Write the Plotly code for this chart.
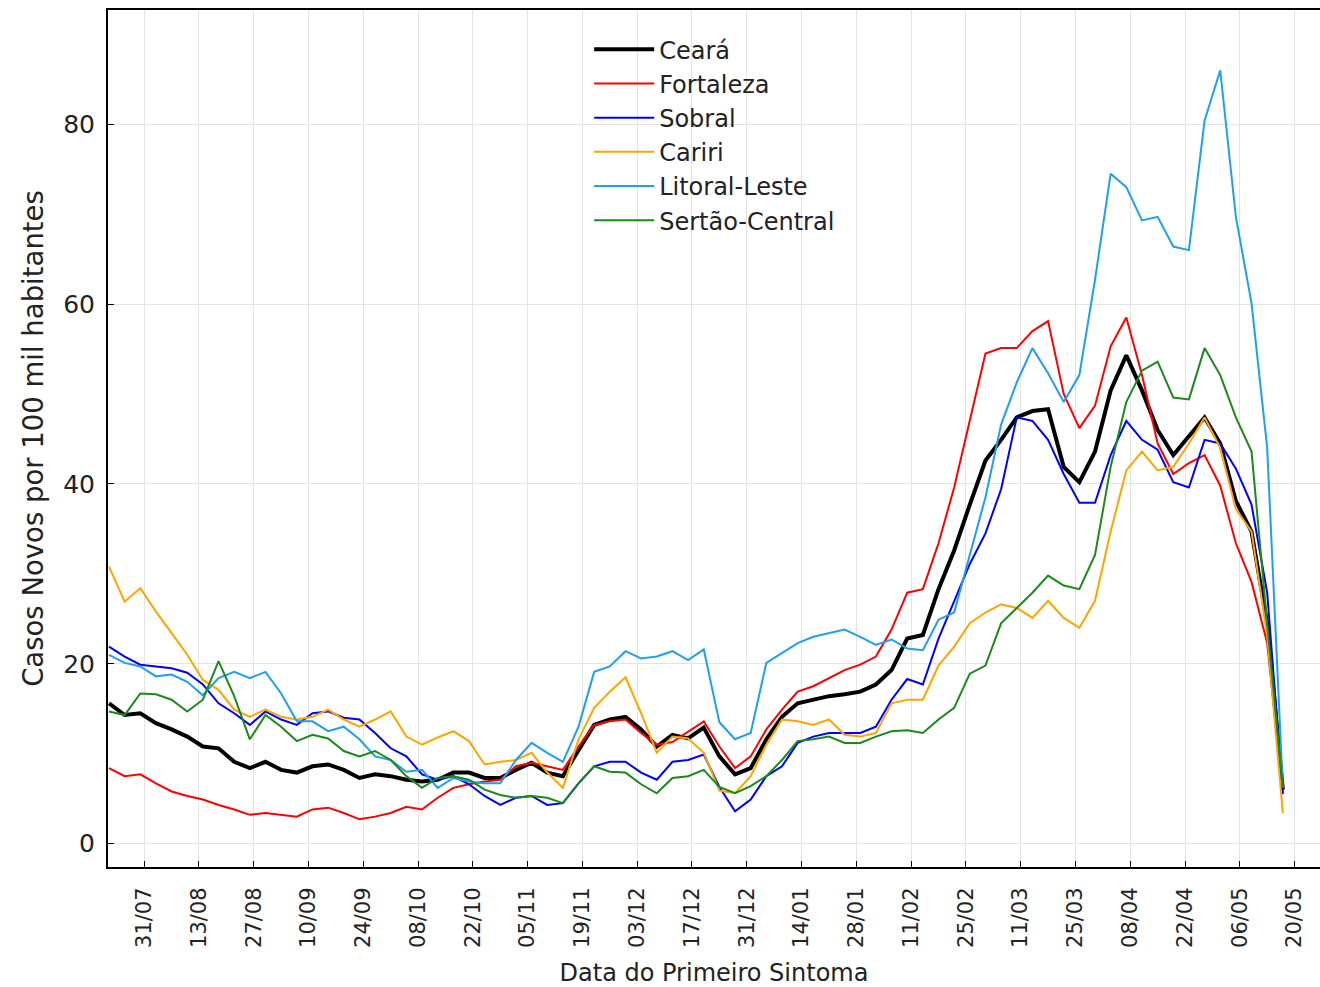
import plotly.graph_objects as go
import pandas as pd

# 4-day sampling of the 7-day-average curves (21/07/2020 .. 17/05/2021)
dates = pd.date_range("2020-07-21", periods=76, freq="4D")

ceara = [15.6, 14.3, 14.5, 13.4, 12.7, 11.9, 10.8, 10.6, 9.1, 8.4, 9.1, 8.2, 7.9, 8.6, 8.8, 8.2, 7.3, 7.7, 7.5,
         7.1, 6.9, 7.1, 7.9, 7.9, 7.3, 7.3, 8.2, 9.0, 7.9, 7.5, 10.4, 13.2, 13.8, 14.1, 12.7, 10.8, 12.1,
         11.7, 12.9, 9.7, 7.7, 8.4, 11.6, 14.1, 15.6, 16.0, 16.4, 16.6, 16.9, 17.7, 19.3,
         22.8, 23.2, 28.3, 32.6, 37.7, 42.6, 44.9, 47.4, 48.1, 48.3, 41.9, 40.2, 43.6, 50.4, 54.3, 50.4,
         46.0, 43.2, 45.3, 47.4, 44.5, 38.1, 34.7, 24.5, 6.0]

fortaleza = [8.4, 7.5, 7.7, 6.7, 5.8, 5.3, 4.9, 4.3, 3.8, 3.2, 3.4, 3.2, 3.0, 3.8, 4.0, 3.4, 2.7, 3.0, 3.4,
             4.1, 3.8, 5.1, 6.2, 6.6, 6.9, 7.1, 8.6, 9.0, 8.6, 8.2, 10.8, 13.2, 13.6, 13.8, 12.3, 11.0, 11.3,
             12.5, 13.6, 10.8, 8.4, 9.7, 12.7, 14.9, 16.9, 17.5, 18.4, 19.3, 19.9, 20.8, 23.8,
             27.9, 28.3, 33.4, 39.6, 47.0, 54.5, 55.1, 55.1, 57.0, 58.1, 50.0, 46.2, 48.7, 55.3, 58.5, 52.1,
             44.5, 41.1, 42.3, 43.2, 39.8, 33.4, 29.1, 22.3, 5.7]

sobral = [21.9, 20.8, 19.9, 19.7, 19.5, 19.0, 17.7, 15.6, 14.5, 13.2, 14.7, 13.8, 13.2, 14.5, 14.7, 14.0, 13.8, 12.3, 10.6,
          9.7, 7.7, 7.1, 7.5, 6.6, 5.3, 4.3, 5.1, 5.3, 4.3, 4.5, 6.7, 8.6, 9.1, 9.1, 7.9, 7.1, 9.1,
          9.3, 9.9, 6.3, 3.6, 4.9, 7.5, 8.6, 11.2, 11.9, 12.3, 12.3, 12.3, 13.0, 16.0,
          18.3, 17.7, 22.8, 27.0, 31.1, 34.5, 39.4, 47.4, 47.0, 44.9, 41.1, 37.9, 37.9, 43.2, 47.0, 44.9,
          43.8, 40.2, 39.6, 44.9, 44.5, 41.7, 37.7, 27.9, 5.5]

cariri = [30.8, 26.9, 28.4, 25.8, 23.4, 21.0, 18.2, 17.1, 14.9, 14.1, 14.9, 14.1, 13.8, 14.1, 14.9, 13.8, 13.0, 13.8, 14.7,
          11.9, 11.0, 11.8, 12.5, 11.4, 8.8, 9.1, 9.3, 10.1, 7.9, 6.2, 11.6, 15.1, 16.9, 18.5, 14.5, 10.1, 11.9,
          11.7, 10.1, 5.9, 5.6, 7.5, 11.0, 13.8, 13.6, 13.2, 13.8, 12.1, 11.9, 12.3, 15.6,
          16.0, 16.0, 19.8, 21.9, 24.5, 25.7, 26.6, 26.2, 25.1, 27.0, 25.1, 24.0, 27.0, 34.7, 41.5, 43.6,
          41.5, 41.9, 44.5, 47.4, 44.0, 37.2, 34.7, 23.2, 3.4]

litoral_leste = [21.0, 20.1, 19.7, 18.6, 18.8, 18.0, 16.5, 18.4, 19.1, 18.4, 19.1, 16.7, 13.6, 13.6, 12.5, 13.0, 11.6, 9.7, 9.3,
                 8.0, 8.2, 6.2, 7.3, 6.9, 6.7, 6.7, 9.3, 11.2, 10.1, 9.1, 13.0, 19.1, 19.7, 21.4, 20.6, 20.8, 21.4,
                 20.4, 21.6, 13.5, 11.6, 12.3, 20.1, 21.2, 22.3, 23.0, 23.4, 23.8, 23.0, 22.1, 22.7,
                 21.7, 21.5, 24.9, 25.7, 32.1, 38.5, 46.6, 51.3, 55.1, 52.3, 49.1, 52.1, 62.7, 74.5, 73.0, 69.3,
                 69.7, 66.4, 66.0, 80.4, 86.0, 69.7, 60.1, 44.0, 6.2]

sertao_central = [14.7, 14.3, 16.7, 16.6, 16.0, 14.7, 16.0, 20.3, 16.4, 11.6, 14.3, 13.0, 11.4, 12.1, 11.7, 10.3, 9.7, 10.3, 9.3,
                  7.5, 6.2, 7.3, 7.5, 7.1, 6.0, 5.4, 5.1, 5.3, 5.1, 4.5, 6.7, 8.6, 8.0, 7.9, 6.6, 5.6, 7.3,
                  7.5, 8.2, 6.3, 5.6, 6.4, 7.5, 9.3, 11.4, 11.6, 11.9, 11.2, 11.2, 11.9, 12.5,
                  12.6, 12.3, 13.8, 15.1, 18.9, 19.8, 24.5, 26.2, 27.9, 29.8, 28.7, 28.3, 32.1, 41.9, 49.1, 52.6,
                  53.6, 49.6, 49.4, 55.1, 52.1, 47.4, 43.6, 24.5, 6.2]

series_names = ["Ceará", "Fortaleza", "Sobral", "Cariri", "Litoral-Leste", "Sertão-Central"]
series_values = [ceara, fortaleza, sobral, cariri, litoral_leste, sertao_central]
series_colors = ["#000000", "#ff0000", "#0000ff", "#ffa500", "#1f9ff0", "#1a8a1a"]
series_widths = [4, 2, 2, 2, 2, 2]

tick_dates = pd.date_range("2020-07-30", periods=22, freq="14D")
tick_labels = ["31/07", "13/08", "27/08", "10/09", "24/09", "08/10", "22/10", "05/11", "19/11",
               "03/12", "17/12", "31/12", "14/01", "28/01", "11/02", "25/02", "11/03", "25/03",
               "08/04", "22/04", "06/05", "20/05"]

fig = go.Figure()
for name, vals, col, w in zip(series_names, series_values, series_colors, series_widths):
    fig.add_trace(go.Scatter(x=dates, y=vals, mode="lines", name=name, legendgroup=name,
                             line=dict(color=col, width=w)))

fig.update_layout(
    width=1320, height=987,
    margin=dict(l=108, r=0, t=10, b=120, autoexpand=False),
    plot_bgcolor="white", paper_bgcolor="white",
    font=dict(family="DejaVu Sans", color="#222222"),
    showlegend=True,
    legend=dict(x=0.397, y=0.98, xanchor="left", yanchor="top",
                bgcolor="rgba(0,0,0,0)", font=dict(size=24, color="#222222"),
                tracegroupgap=0, itemwidth=60),
)

fig.update_xaxes(
    range=["2020-07-20 18:00", "2021-05-26 12:00"],
    tickvals=tick_dates, ticktext=tick_labels, tickangle=-90,
    tickfont=dict(size=21), ticks="inside", ticklen=6, tickcolor="black",
    ticklabelstandoff=10,
    showgrid=True, gridcolor="#e3e3e3", gridwidth=1,
    showline=True, linecolor="black", linewidth=2, mirror=True,
    zeroline=False, automargin=False,
    title=dict(text="Data do Primeiro Sintoma", font=dict(size=24), standoff=18),
)
fig.update_yaxes(
    range=[-2.6, 92.7],
    tickvals=[0, 20, 40, 60, 80],
    tickfont=dict(size=25), ticks="inside", ticklen=6, tickcolor="black",
    ticklabelstandoff=6,
    showgrid=True, gridcolor="#e3e3e3", gridwidth=1,
    showline=True, linecolor="black", linewidth=2, mirror=False,
    zeroline=False, automargin=False,
    title=dict(text="Casos Novos por 100 mil habitantes", font=dict(size=27.5), standoff=12),
)

fig.write_html("out.html", config={"displayModeBar": False},
               post_script="document.body.style.margin='0px';")
